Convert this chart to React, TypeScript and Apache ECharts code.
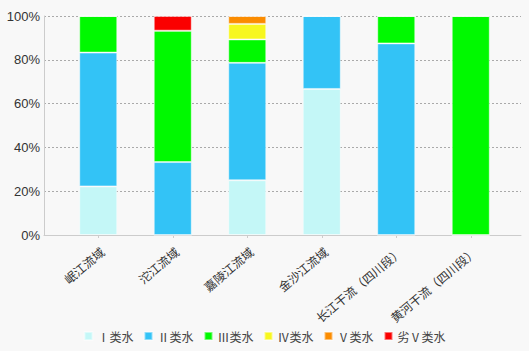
import React, { useEffect, useRef } from "react";
import * as echarts from "echarts";

const categories = ["岷江流域", "沱江流域", "嘉陵江流域", "金沙江流域", "长江干流（四川段）", "黄河干流（四川段）"];
const seriesNames = ["Ⅰ类水", "Ⅱ类水", "Ⅲ类水", "Ⅳ类水", "Ⅴ类水", "劣Ⅴ类水"];
const classI = [22.2, 0, 25.0, 66.7, 0, 0];
const classII = [61.1, 33.3, 53.6, 33.3, 87.5, 0];
const classIII = [16.7, 60.0, 10.7, 0, 12.5, 100];
const classIV = [0, 0, 7.1, 0, 0, 0];
const classV = [0, 0, 3.6, 0, 0, 0];
const worseV = [0, 6.7, 0, 0, 0, 0];
const colors = ["#c4f7f7", "#33c3f6", "#00f900", "#f7f71f", "#fb8c00", "#fa0000"];

export default function App() {
  const ref = useRef<HTMLDivElement>(null);
  useEffect(() => {
    if (!ref.current) return;
    const chart = echarts.init(ref.current, null, { renderer: "svg" });
    const allData = [classI, classII, classIII, classIV, classV, worseV];
    const series = allData.map((d, i) => ({
      name: seriesNames[i],
      type: "bar",
      stack: "total",
      xAxisIndex: 1,
      yAxisIndex: 1,
      barWidth: 38,
      data: d,
      itemStyle: { color: colors[i], borderColor: "rgba(255,255,255,0.45)", borderWidth: 1 },
    }));
    chart.setOption({
      animation: false,
      backgroundColor: "#f8f8f8",
      color: colors,
      grid: [
        { left: 44, right: 8, top: 16, bottom: 116 },
        { left: 61, right: 21, top: 16, bottom: 116 },
      ],
      legend: {
        bottom: 4,
        left: "center",
        icon: "rect",
        itemWidth: 8,
        itemHeight: 8,
        itemGap: 10,
        textStyle: { fontSize: 12, color: "#444", fontFamily: "Noto Sans CJK SC" },
        data: seriesNames,
      },
      xAxis: [
        {
          type: "value",
          gridIndex: 0,
          min: 0,
          max: 1,
          axisLine: { show: true, lineStyle: { color: "#ccc", width: 1 } },
          axisTick: { show: false },
          axisLabel: { show: false },
          splitLine: { show: false },
        },
        {
          type: "category",
          gridIndex: 1,
          data: categories,
          axisLine: { show: false },
          axisTick: { show: true, alignWithLabel: true, length: 3, lineStyle: { color: "#ccc" } },
          axisLabel: {
            interval: 0,
            rotate: 40,
            fontSize: 12,
            color: "#333",
            margin: 10,
            verticalAlign: "top",
            fontFamily: "Noto Sans CJK SC",
          },
        },
      ],
      yAxis: [
        {
          type: "value",
          gridIndex: 0,
          min: 0,
          max: 100,
          interval: 20,
          axisLine: { show: true, lineStyle: { color: "#ccc" } },
          axisTick: { show: false },
          axisLabel: { formatter: "{value}%", fontSize: 13, color: "#333", margin: 4, fontFamily: "Arial, Liberation Sans, sans-serif" },
          splitLine: { show: true, lineStyle: { type: [2, 2], color: "#aaa" } },
        },
        {
          type: "value",
          gridIndex: 1,
          min: 0,
          max: 100,
          interval: 20,
          show: false,
          splitLine: { show: false },
        },
      ],
      series,
    });
    return () => chart.dispose();
  }, []);
  return <div ref={ref} style={{ position: "fixed", left: 0, top: 0, width: 529, height: 351 }} />;
}
